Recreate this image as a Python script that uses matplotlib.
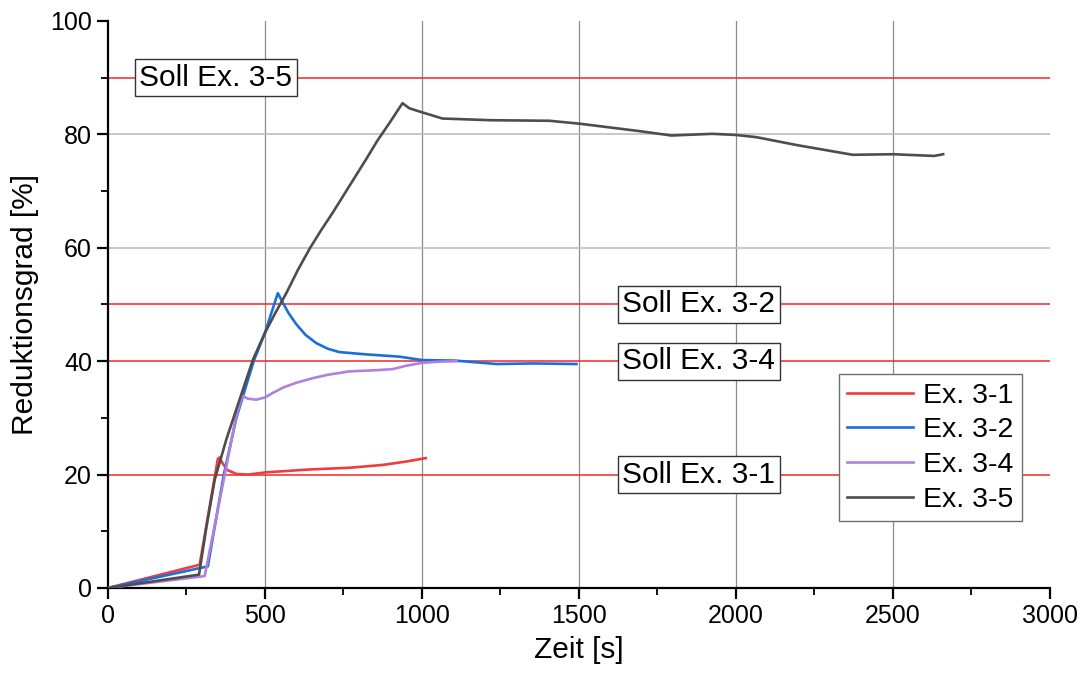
import matplotlib
matplotlib.use("Agg")
import matplotlib.pyplot as plt

plt.rcParams['font.family'] = ['Liberation Sans', 'DejaVu Sans']

t_31 = [0, 292, 350, 355, 365, 380, 410, 446, 504, 642, 769, 875, 950, 1012]
r_31 = [0, 4.1, 22.8, 23.0, 22.0, 20.8, 20.1, 20.0, 20.4, 20.9, 21.2, 21.7, 22.3, 22.9]

t_32 = [0, 300, 318, 369, 409, 464, 500, 541, 555, 575, 600, 630, 663, 700,
        737, 822, 928, 1000, 1106, 1238, 1355, 1492]
r_32 = [0, 3.6, 3.8, 20, 30, 40, 45, 52, 50.5, 48.5, 46.5, 44.6, 43.2, 42.2,
        41.6, 41.2, 40.8, 40.2, 40.1, 39.5, 39.6, 39.5]

t_34 = [0, 308, 372, 407, 428, 445, 472, 500, 525, 560, 600, 652, 700, 769,
        850, 907, 950, 1000, 1050, 1110]
r_34 = [0, 2.1, 20, 30, 33.9, 33.4, 33.2, 33.6, 34.4, 35.4, 36.2, 37.0, 37.6,
        38.2, 38.4, 38.6, 39.2, 39.7, 39.9, 40.0]

t_35 = [0, 290, 314, 340, 377, 419, 462, 500, 534, 568, 605, 644, 680, 716,
        770, 822, 857, 900, 938, 960, 1000, 1065, 1218, 1406, 1500, 1689,
        1795, 1924, 2000, 2066, 2195, 2372, 2501, 2631, 2660]
r_35 = [0, 2.35, 10.9, 19.1, 26.2, 33.2, 40.3, 45, 48.6, 52, 56.1, 60, 63.2,
        66.2, 71.0, 75.6, 78.8, 82.3, 85.5, 84.6, 83.9, 82.8, 82.5, 82.4,
        81.9, 80.6, 79.8, 80.1, 79.9, 79.5, 78.1, 76.4, 76.5, 76.2, 76.5]

soll_werte = [20, 40, 50, 90]
soll_texte = ['Soll Ex. 3-1', 'Soll Ex. 3-4', 'Soll Ex. 3-2', 'Soll Ex. 3-5']
soll_x = [1882, 1882, 1882, 344]

fig = plt.figure(figsize=(10.85, 6.77), dpi=100)
ax = fig.add_axes([0.0995, 0.1315, 0.8682, 0.8375])

# Gitter
for xv in [500, 1000, 1500, 2000, 2500]:
    ax.axvline(xv, color='#8c8c8c', lw=0.9, zorder=0)
for yv in [0, 60, 80]:
    ax.axhline(yv, color='#bdbdbd', lw=1.2, zorder=0)

# Sollwerte
for yv, txt, xv in zip(soll_werte, soll_texte, soll_x):
    ax.axhline(yv, color='#f52525', lw=1.1, zorder=1)
    ax.text(xv, yv, txt, fontsize=21.5, ha='center', va='center', zorder=5,
            bbox=dict(boxstyle='square,pad=0.15', fc='white', ec='#333333', lw=1.0))

ax.plot(t_31, r_31, color='#f03c3c', lw=1.9, label='Ex. 3-1', zorder=3)
ax.plot(t_32, r_32, color='#1a6fdc', lw=1.9, label='Ex. 3-2', zorder=3)
ax.plot(t_34, r_34, color='#b27fdf', lw=1.9, label='Ex. 3-4', zorder=3)
ax.plot(t_35, r_35, color='#4d4d4d', lw=1.9, label='Ex. 3-5', zorder=3)

ax.set_xlim(0, 3000)
ax.set_ylim(0, 100)
ax.set_xticks(range(0, 3001, 500))
ax.set_xticks(range(250, 3000, 500), minor=True)
ax.set_yticks(range(0, 101, 20))
ax.set_yticks(range(10, 100, 20), minor=True)

ax.spines['top'].set_visible(False)
ax.spines['right'].set_visible(False)
ax.spines['left'].set_linewidth(1.6)
ax.spines['bottom'].set_linewidth(1.6)
ax.tick_params(which='major', direction='out', length=8, width=1.6, labelsize=18)
ax.tick_params(which='minor', direction='out', length=5, width=1.3)

ax.set_xlabel('Zeit [s]', fontsize=21.5, labelpad=6)
ax.set_ylabel('Reduktionsgrad [%]', fontsize=21.5, labelpad=8)

leg = ax.legend(loc='lower right', bbox_to_anchor=(0.97, 0.118), fontsize=20.5,
                frameon=True, fancybox=False, framealpha=1, edgecolor='#6e6e6e',
                handlelength=2.3, handletextpad=0.35, labelspacing=0.3,
                borderpad=0.3, borderaxespad=0)
leg.get_frame().set_linewidth(1.0)

fig.savefig('out.png', dpi=100)
